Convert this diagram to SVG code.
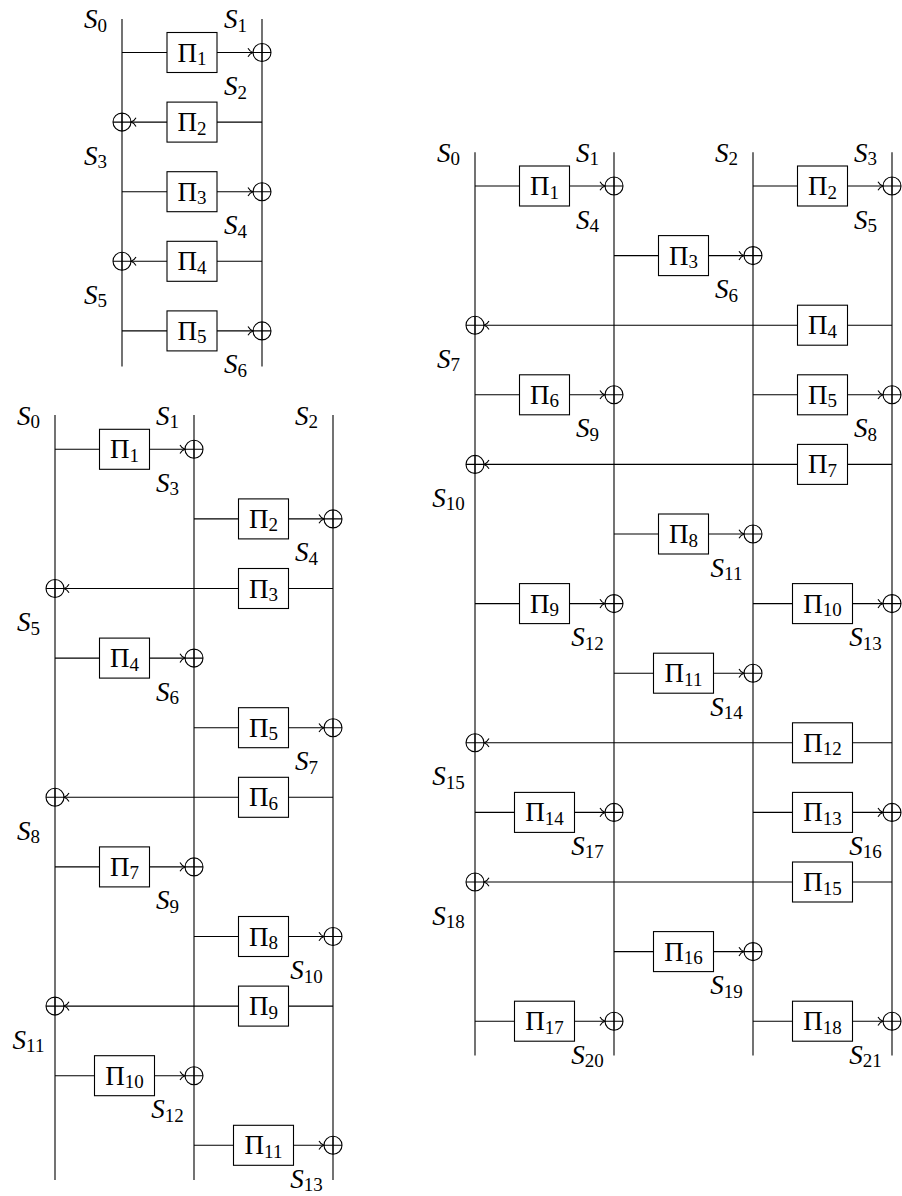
<svg xmlns="http://www.w3.org/2000/svg" xmlns:xlink="http://www.w3.org/1999/xlink" width="902" height="1196" viewBox="0 0 902 1196">
<style>
.ln{stroke:#000;stroke-width:1.1;fill:none}
.ar{stroke:#000;stroke-width:1.1;fill:none;marker-end:url(#to)}
.bx{fill:#fff;stroke:#000;stroke-width:1.1}
text{font-family:"Liberation Serif","Times New Roman",serif;font-size:27px;fill:#000;text-anchor:middle}
.s{font-style:italic}
.sub{font-size:19px;font-style:normal}
</style>
<defs>
<marker id="to" markerUnits="userSpaceOnUse" viewBox="-7 -6 8 12" refX="0" refY="0" markerWidth="8" markerHeight="12" orient="auto">
<path d="M-5,-4.3 C-4,-2.4 -1.8,-0.6 0,0 C-1.8,0.6 -4,2.4 -5,4.3" fill="none" stroke="#000" stroke-width="1.1"/>
</marker>
<g id="op" fill="none" stroke="#000" stroke-width="1.1"><circle r="9"/><path d="M-9 0H9M0 -9V9"/></g>
</defs>

<g id="connectors">
<!-- top-left -->
<path class="ln" d="M122 19V366.5M262 19V366.5"/>
<path class="ar" d="M122 52.5H253"/>
<path class="ar" d="M262 122.1H131"/>
<path class="ar" d="M122 191.7H253"/>
<path class="ar" d="M262 261.3H131"/>
<path class="ar" d="M122 330.9H253"/>
<!-- bottom-left -->
<path class="ln" d="M55 415V1180M194 415V1180M333 415V1180"/>
<path class="ar" d="M55 449.3H185"/>
<path class="ar" d="M194 518.9H324"/>
<path class="ar" d="M333 588.5H64"/>
<path class="ar" d="M55 658.1H185"/>
<path class="ar" d="M194 727.7H324"/>
<path class="ar" d="M333 797.3H64"/>
<path class="ar" d="M55 866.9H185"/>
<path class="ar" d="M194 936.5H324"/>
<path class="ar" d="M333 1006.1H64"/>
<path class="ar" d="M55 1075.7H185"/>
<path class="ar" d="M194 1145.3H324"/>
<!-- right -->
<path class="ln" d="M475 152.3V1055.5M614 152.3V1055.5M753 152.3V1055.5M892 152.3V1055.5"/>
<path class="ar" d="M475 186H605"/>
<path class="ar" d="M753 186H883"/>
<path class="ar" d="M614 255.6H744"/>
<path class="ar" d="M892 325.2H484"/>
<path class="ar" d="M475 394.8H605"/>
<path class="ar" d="M753 394.8H883"/>
<path class="ar" d="M892 464.4H484"/>
<path class="ar" d="M614 534H744"/>
<path class="ar" d="M475 603.6H605"/>
<path class="ar" d="M753 603.6H883"/>
<path class="ar" d="M614 673.2H744"/>
<path class="ar" d="M892 742.8H484"/>
<path class="ar" d="M475 812.4H605"/>
<path class="ar" d="M753 812.4H883"/>
<path class="ar" d="M892 882H484"/>
<path class="ar" d="M614 951.6H744"/>
<path class="ar" d="M475 1021.2H605"/>
<path class="ar" d="M753 1021.2H883"/>
</g>

<!-- ===== top-left diagram ===== -->
<g id="tl-p1"><rect class="bx" x="167" y="32.5" width="50" height="40"/><text x="192" y="61.5">Π<tspan class="sub" dy="3.5">1</tspan></text></g>
<g id="tl-p2"><rect class="bx" x="167" y="102.1" width="50" height="40"/><text x="192" y="131.1">Π<tspan class="sub" dy="3.5">2</tspan></text></g>
<g id="tl-p3"><rect class="bx" x="167" y="171.7" width="50" height="40"/><text x="192" y="200.7">Π<tspan class="sub" dy="3.5">3</tspan></text></g>
<g id="tl-p4"><rect class="bx" x="167" y="241.3" width="50" height="40"/><text x="192" y="270.3">Π<tspan class="sub" dy="3.5">4</tspan></text></g>
<g id="tl-p5"><rect class="bx" x="167" y="310.9" width="50" height="40"/><text x="192" y="339.9">Π<tspan class="sub" dy="3.5">5</tspan></text></g>
<g id="tl-x1"><use xlink:href="#op" x="262" y="52.5"/></g>
<g id="tl-x2"><use xlink:href="#op" x="122" y="122.1"/></g>
<g id="tl-x3"><use xlink:href="#op" x="262" y="191.7"/></g>
<g id="tl-x4"><use xlink:href="#op" x="122" y="261.3"/></g>
<g id="tl-x5"><use xlink:href="#op" x="262" y="330.9"/></g>
<g id="tl-labels">
<text x="95.5" y="28"><tspan class="s">S</tspan><tspan class="sub" dy="3.5">0</tspan></text>
<text x="235.5" y="28"><tspan class="s">S</tspan><tspan class="sub" dy="3.5">1</tspan></text>
<text x="235.5" y="95"><tspan class="s">S</tspan><tspan class="sub" dy="3.5">2</tspan></text>
<text x="95.5" y="164.6"><tspan class="s">S</tspan><tspan class="sub" dy="3.5">3</tspan></text>
<text x="235.5" y="234.2"><tspan class="s">S</tspan><tspan class="sub" dy="3.5">4</tspan></text>
<text x="95.5" y="303.8"><tspan class="s">S</tspan><tspan class="sub" dy="3.5">5</tspan></text>
<text x="235.5" y="373.4"><tspan class="s">S</tspan><tspan class="sub" dy="3.5">6</tspan></text>
</g>

<!-- ===== bottom-left diagram ===== -->
<g id="bl-p1"><rect class="bx" x="99.5" y="429.3" width="50" height="40"/><text x="124.5" y="458.3">Π<tspan class="sub" dy="3.5">1</tspan></text></g>
<g id="bl-p2"><rect class="bx" x="238.5" y="498.9" width="50" height="40"/><text x="263.5" y="527.9">Π<tspan class="sub" dy="3.5">2</tspan></text></g>
<g id="bl-p3"><rect class="bx" x="238.5" y="568.5" width="50" height="40"/><text x="263.5" y="597.5">Π<tspan class="sub" dy="3.5">3</tspan></text></g>
<g id="bl-p4"><rect class="bx" x="99.5" y="638.1" width="50" height="40"/><text x="124.5" y="667.1">Π<tspan class="sub" dy="3.5">4</tspan></text></g>
<g id="bl-p5"><rect class="bx" x="238.5" y="707.7" width="50" height="40"/><text x="263.5" y="736.7">Π<tspan class="sub" dy="3.5">5</tspan></text></g>
<g id="bl-p6"><rect class="bx" x="238.5" y="777.3" width="50" height="40"/><text x="263.5" y="806.3">Π<tspan class="sub" dy="3.5">6</tspan></text></g>
<g id="bl-p7"><rect class="bx" x="99.5" y="846.9" width="50" height="40"/><text x="124.5" y="875.9">Π<tspan class="sub" dy="3.5">7</tspan></text></g>
<g id="bl-p8"><rect class="bx" x="238.5" y="916.5" width="50" height="40"/><text x="263.5" y="945.5">Π<tspan class="sub" dy="3.5">8</tspan></text></g>
<g id="bl-p9"><rect class="bx" x="238.5" y="986.1" width="50" height="40"/><text x="263.5" y="1015.1">Π<tspan class="sub" dy="3.5">9</tspan></text></g>
<g id="bl-p10"><rect class="bx" x="94.5" y="1055.7" width="60" height="40"/><text x="124.5" y="1084.7">Π<tspan class="sub" dy="3.5">10</tspan></text></g>
<g id="bl-p11"><rect class="bx" x="233.5" y="1125.3" width="60" height="40"/><text x="263.5" y="1154.3">Π<tspan class="sub" dy="3.5">11</tspan></text></g>
<g id="bl-x1"><use xlink:href="#op" x="194" y="449.3"/></g>
<g id="bl-x2"><use xlink:href="#op" x="333" y="518.9"/></g>
<g id="bl-x3"><use xlink:href="#op" x="55" y="588.5"/></g>
<g id="bl-x4"><use xlink:href="#op" x="194" y="658.1"/></g>
<g id="bl-x5"><use xlink:href="#op" x="333" y="727.7"/></g>
<g id="bl-x6"><use xlink:href="#op" x="55" y="797.3"/></g>
<g id="bl-x7"><use xlink:href="#op" x="194" y="866.9"/></g>
<g id="bl-x8"><use xlink:href="#op" x="333" y="936.5"/></g>
<g id="bl-x9"><use xlink:href="#op" x="55" y="1006.1"/></g>
<g id="bl-x10"><use xlink:href="#op" x="194" y="1075.7"/></g>
<g id="bl-x11"><use xlink:href="#op" x="333" y="1145.3"/></g>
<g id="bl-labels">
<text x="28.5" y="424.8"><tspan class="s">S</tspan><tspan class="sub" dy="3.5">0</tspan></text>
<text x="167.5" y="424.8"><tspan class="s">S</tspan><tspan class="sub" dy="3.5">1</tspan></text>
<text x="306.5" y="424.8"><tspan class="s">S</tspan><tspan class="sub" dy="3.5">2</tspan></text>
<text x="167.5" y="491.8"><tspan class="s">S</tspan><tspan class="sub" dy="3.5">3</tspan></text>
<text x="306.5" y="561.4"><tspan class="s">S</tspan><tspan class="sub" dy="3.5">4</tspan></text>
<text x="28.5" y="631"><tspan class="s">S</tspan><tspan class="sub" dy="3.5">5</tspan></text>
<text x="167.5" y="700.6"><tspan class="s">S</tspan><tspan class="sub" dy="3.5">6</tspan></text>
<text x="306.5" y="770.2"><tspan class="s">S</tspan><tspan class="sub" dy="3.5">7</tspan></text>
<text x="28.5" y="839.8"><tspan class="s">S</tspan><tspan class="sub" dy="3.5">8</tspan></text>
<text x="167.5" y="909.4"><tspan class="s">S</tspan><tspan class="sub" dy="3.5">9</tspan></text>
<text x="306.5" y="979"><tspan class="s">S</tspan><tspan class="sub" dy="3.5">10</tspan></text>
<text x="28.5" y="1048.6"><tspan class="s">S</tspan><tspan class="sub" dy="3.5">11</tspan></text>
<text x="167.5" y="1118.2"><tspan class="s">S</tspan><tspan class="sub" dy="3.5">12</tspan></text>
<text x="306.5" y="1187.8"><tspan class="s">S</tspan><tspan class="sub" dy="3.5">13</tspan></text>
</g>

<!-- ===== right diagram ===== -->
<g id="r-p1"><rect class="bx" x="519.5" y="166" width="50" height="40"/><text x="544.5" y="195">Π<tspan class="sub" dy="3.5">1</tspan></text></g>
<g id="r-p2"><rect class="bx" x="797.5" y="166" width="50" height="40"/><text x="822.5" y="195">Π<tspan class="sub" dy="3.5">2</tspan></text></g>
<g id="r-p3"><rect class="bx" x="658.5" y="235.6" width="50" height="40"/><text x="683.5" y="264.6">Π<tspan class="sub" dy="3.5">3</tspan></text></g>
<g id="r-p4"><rect class="bx" x="797.5" y="305.2" width="50" height="40"/><text x="822.5" y="334.2">Π<tspan class="sub" dy="3.5">4</tspan></text></g>
<g id="r-p6"><rect class="bx" x="519.5" y="374.8" width="50" height="40"/><text x="544.5" y="403.8">Π<tspan class="sub" dy="3.5">6</tspan></text></g>
<g id="r-p5"><rect class="bx" x="797.5" y="374.8" width="50" height="40"/><text x="822.5" y="403.8">Π<tspan class="sub" dy="3.5">5</tspan></text></g>
<g id="r-p7"><rect class="bx" x="797.5" y="444.4" width="50" height="40"/><text x="822.5" y="473.4">Π<tspan class="sub" dy="3.5">7</tspan></text></g>
<g id="r-p8"><rect class="bx" x="658.5" y="514" width="50" height="40"/><text x="683.5" y="543">Π<tspan class="sub" dy="3.5">8</tspan></text></g>
<g id="r-p9"><rect class="bx" x="519.5" y="583.6" width="50" height="40"/><text x="544.5" y="612.6">Π<tspan class="sub" dy="3.5">9</tspan></text></g>
<g id="r-p10"><rect class="bx" x="792.5" y="583.6" width="60" height="40"/><text x="822.5" y="612.6">Π<tspan class="sub" dy="3.5">10</tspan></text></g>
<g id="r-p11"><rect class="bx" x="653.5" y="653.2" width="60" height="40"/><text x="683.5" y="682.2">Π<tspan class="sub" dy="3.5">11</tspan></text></g>
<g id="r-p12"><rect class="bx" x="792.5" y="722.8" width="60" height="40"/><text x="822.5" y="751.8">Π<tspan class="sub" dy="3.5">12</tspan></text></g>
<g id="r-p14"><rect class="bx" x="514.5" y="792.4" width="60" height="40"/><text x="544.5" y="821.4">Π<tspan class="sub" dy="3.5">14</tspan></text></g>
<g id="r-p13"><rect class="bx" x="792.5" y="792.4" width="60" height="40"/><text x="822.5" y="821.4">Π<tspan class="sub" dy="3.5">13</tspan></text></g>
<g id="r-p15"><rect class="bx" x="792.5" y="862" width="60" height="40"/><text x="822.5" y="891">Π<tspan class="sub" dy="3.5">15</tspan></text></g>
<g id="r-p16"><rect class="bx" x="653.5" y="931.6" width="60" height="40"/><text x="683.5" y="960.6">Π<tspan class="sub" dy="3.5">16</tspan></text></g>
<g id="r-p17"><rect class="bx" x="514.5" y="1001.2" width="60" height="40"/><text x="544.5" y="1030.2">Π<tspan class="sub" dy="3.5">17</tspan></text></g>
<g id="r-p18"><rect class="bx" x="792.5" y="1001.2" width="60" height="40"/><text x="822.5" y="1030.2">Π<tspan class="sub" dy="3.5">18</tspan></text></g>
<g id="r-x1"><use xlink:href="#op" x="614" y="186"/></g>
<g id="r-x2"><use xlink:href="#op" x="892" y="186"/></g>
<g id="r-x3"><use xlink:href="#op" x="753" y="255.6"/></g>
<g id="r-x4"><use xlink:href="#op" x="475" y="325.2"/></g>
<g id="r-x6"><use xlink:href="#op" x="614" y="394.8"/></g>
<g id="r-x5"><use xlink:href="#op" x="892" y="394.8"/></g>
<g id="r-x7"><use xlink:href="#op" x="475" y="464.4"/></g>
<g id="r-x8"><use xlink:href="#op" x="753" y="534"/></g>
<g id="r-x9"><use xlink:href="#op" x="614" y="603.6"/></g>
<g id="r-x10"><use xlink:href="#op" x="892" y="603.6"/></g>
<g id="r-x11"><use xlink:href="#op" x="753" y="673.2"/></g>
<g id="r-x12"><use xlink:href="#op" x="475" y="742.8"/></g>
<g id="r-x14"><use xlink:href="#op" x="614" y="812.4"/></g>
<g id="r-x13"><use xlink:href="#op" x="892" y="812.4"/></g>
<g id="r-x15"><use xlink:href="#op" x="475" y="882"/></g>
<g id="r-x16"><use xlink:href="#op" x="753" y="951.6"/></g>
<g id="r-x17"><use xlink:href="#op" x="614" y="1021.2"/></g>
<g id="r-x18"><use xlink:href="#op" x="892" y="1021.2"/></g>
<g id="r-labels">
<text x="448.5" y="161.5"><tspan class="s">S</tspan><tspan class="sub" dy="3.5">0</tspan></text>
<text x="587.5" y="161.5"><tspan class="s">S</tspan><tspan class="sub" dy="3.5">1</tspan></text>
<text x="726.5" y="161.5"><tspan class="s">S</tspan><tspan class="sub" dy="3.5">2</tspan></text>
<text x="865.5" y="161.5"><tspan class="s">S</tspan><tspan class="sub" dy="3.5">3</tspan></text>
<text x="587.5" y="228.5"><tspan class="s">S</tspan><tspan class="sub" dy="3.5">4</tspan></text>
<text x="865.5" y="228.5"><tspan class="s">S</tspan><tspan class="sub" dy="3.5">5</tspan></text>
<text x="726.5" y="298.1"><tspan class="s">S</tspan><tspan class="sub" dy="3.5">6</tspan></text>
<text x="448.5" y="367.7"><tspan class="s">S</tspan><tspan class="sub" dy="3.5">7</tspan></text>
<text x="587.5" y="437.3"><tspan class="s">S</tspan><tspan class="sub" dy="3.5">9</tspan></text>
<text x="865.5" y="437.3"><tspan class="s">S</tspan><tspan class="sub" dy="3.5">8</tspan></text>
<text x="448.5" y="506.9"><tspan class="s">S</tspan><tspan class="sub" dy="3.5">10</tspan></text>
<text x="726.5" y="576.5"><tspan class="s">S</tspan><tspan class="sub" dy="3.5">11</tspan></text>
<text x="587.5" y="646.1"><tspan class="s">S</tspan><tspan class="sub" dy="3.5">12</tspan></text>
<text x="865.5" y="646.1"><tspan class="s">S</tspan><tspan class="sub" dy="3.5">13</tspan></text>
<text x="726.5" y="715.7"><tspan class="s">S</tspan><tspan class="sub" dy="3.5">14</tspan></text>
<text x="448.5" y="785.3"><tspan class="s">S</tspan><tspan class="sub" dy="3.5">15</tspan></text>
<text x="587.5" y="854.9"><tspan class="s">S</tspan><tspan class="sub" dy="3.5">17</tspan></text>
<text x="865.5" y="854.9"><tspan class="s">S</tspan><tspan class="sub" dy="3.5">16</tspan></text>
<text x="448.5" y="924.5"><tspan class="s">S</tspan><tspan class="sub" dy="3.5">18</tspan></text>
<text x="726.5" y="994.1"><tspan class="s">S</tspan><tspan class="sub" dy="3.5">19</tspan></text>
<text x="587.5" y="1063.7"><tspan class="s">S</tspan><tspan class="sub" dy="3.5">20</tspan></text>
<text x="865.5" y="1063.7"><tspan class="s">S</tspan><tspan class="sub" dy="3.5">21</tspan></text>
</g>
</svg>
